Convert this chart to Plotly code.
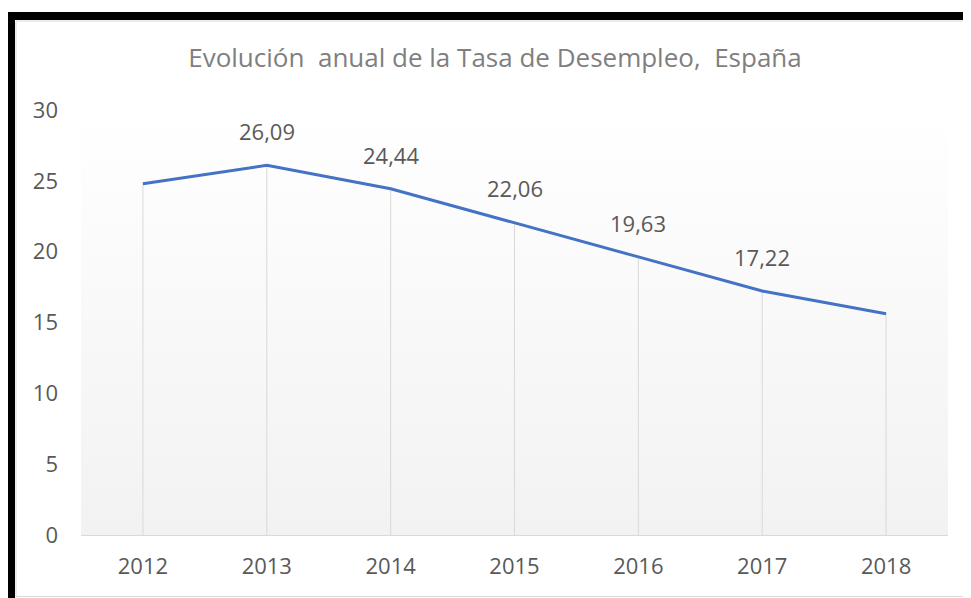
import plotly.graph_objects as go

years = [2012, 2013, 2014, 2015, 2016, 2017, 2018]
tasa = [24.79, 26.09, 24.44, 22.06, 19.63, 17.22, 15.62]
etiquetas = ["", "26,09", "24,44", "22,06", "19,63", "17,22", ""]
y_ticks = [0, 5, 10, 15, 20, 25, 30]
titulo = "Evolución  anual de la Tasa de Desempleo,  España"

# page body has an 8px margin, so the figure is drawn 8px smaller/offset
OFF = 8
W, H = 971 - OFF, 598 - OFF
L, R, T, B = 81 - OFF, 948 - OFF, 110 - OFF, 535 - OFF
FONT = "Open Sans"


def px(x):
    return (x - OFF - L) / (R - L)


def py(y):
    return (B - (y - OFF)) / (B - T)


fig = go.Figure()

# plot-area gradient background
fig.add_trace(go.Scatter(
    x=[years[0] - 0.5, years[-1] + 0.5, years[-1] + 0.5, years[0] - 0.5, years[0] - 0.5],
    y=[0, 0, y_ticks[-1], y_ticks[-1], 0],
    mode="lines", line=dict(width=0), fill="toself",
    fillgradient=dict(type="vertical", start=0, stop=y_ticks[-1],
                      colorscale=[[0, "#f2f2f2"], [1, "#ffffff"]]),
    hoverinfo="skip", showlegend=False,
))

# drop lines
dx, dy = [], []
for yr, v in zip(years, tasa):
    dx += [yr, yr, None]
    dy += [0, v, None]
fig.add_trace(go.Scatter(x=dx, y=dy, mode="lines",
                         line=dict(color="#d9d9d9", width=1),
                         hoverinfo="skip", showlegend=False))

fig.add_trace(go.Scatter(x=years, y=tasa, mode="lines",
                         line=dict(color="#4472c4", width=3),
                         showlegend=False))

annotations = []
for yr, v, t in zip(years, tasa, etiquetas):
    if t:
        annotations.append(dict(x=yr, y=v, text=t, showarrow=False, yshift=34,
                                font=dict(family=FONT, size=22, color="#595959")))

shapes = [
    # inner light chart border
    dict(type="rect", xref="paper", yref="paper",
         x0=px(16), x1=px(990), y0=py(21), y1=py(596.5),
         line=dict(color="#d9d9d9", width=1), fillcolor="rgba(0,0,0,0)"),
    # black frame top
    dict(type="rect", xref="paper", yref="paper",
         x0=px(7), x1=px(990), y0=py(12), y1=py(20),
         line=dict(width=0), fillcolor="black"),
    # black frame left
    dict(type="rect", xref="paper", yref="paper",
         x0=px(7), x1=px(15), y0=py(12), y1=py(610),
         line=dict(width=0), fillcolor="black"),
]

fig.update_layout(
    width=W, height=H,
    margin=dict(l=L, r=W - R, t=T, b=H - B),
    paper_bgcolor="white", plot_bgcolor="rgba(0,0,0,0)",
    title=dict(text=titulo, x=(495 - OFF) / W, xanchor="center", y=1 - (58 - OFF) / H,
               yanchor="middle", xref="container", yref="container",
               font=dict(family=FONT, size=26, color="#7f7f7f")),
    xaxis=dict(range=[years[0] - 0.5, years[-1] + 0.5], tickvals=years,
               ticktext=[str(y) for y in years], showgrid=False, zeroline=False,
               showline=True, linecolor="#d9d9d9", linewidth=1, ticks="",
               ticklabelstandoff=12,
               tickfont=dict(family=FONT, size=22, color="#595959")),
    yaxis=dict(range=[0, 30], tickvals=y_ticks, showgrid=False, zeroline=False,
               showline=False, ticks="", ticklabelstandoff=22,
               tickfont=dict(family=FONT, size=22, color="#595959")),
    annotations=annotations, shapes=shapes,
)

fig.write_html("out.html")
